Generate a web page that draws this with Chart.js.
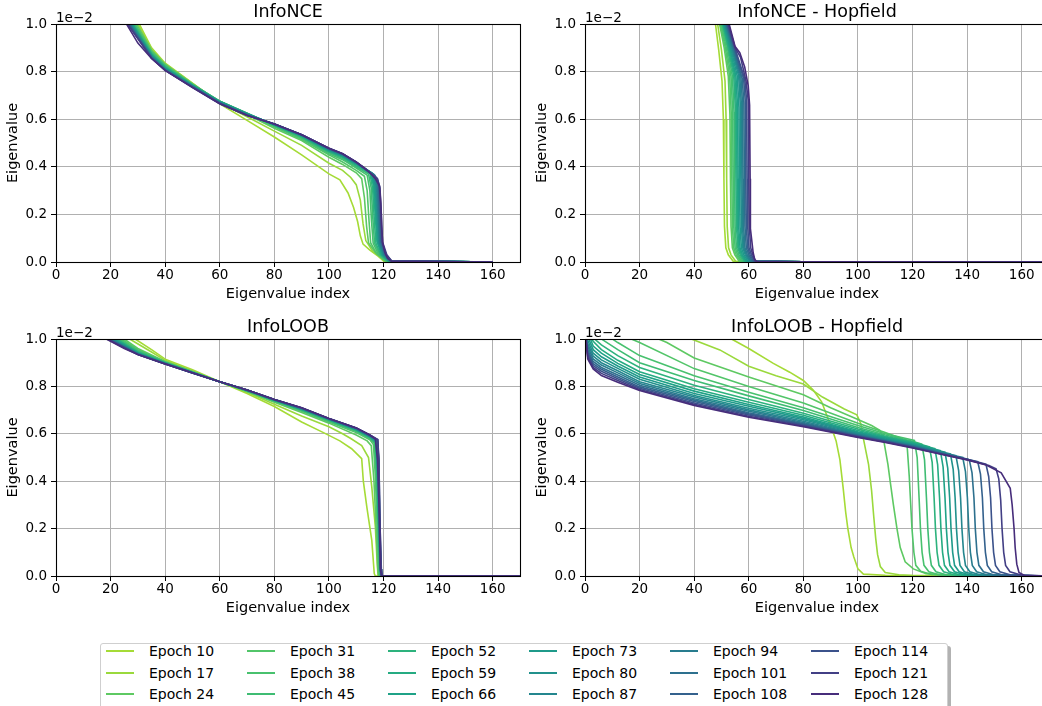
<!DOCTYPE html>
<html><head><meta charset="utf-8">
<script src="https://cdn.jsdelivr.net/npm/chart.js@4"></script>
<style>
html,body{margin:0;padding:0;background:#fff;overflow:hidden;}
#wrap{position:relative;width:1042px;height:706px;overflow:hidden;background:#fff;}
canvas.p{position:absolute;}
#legend{position:absolute;left:100px;top:643px;width:846px;height:80px;border:1px solid #cfcfcf;border-radius:3px;background:#fff;box-shadow:3px 3px 0 rgba(0,0,0,0.3);font-family:'DejaVu Sans',sans-serif;font-size:14px;color:#000;}
.li{position:absolute;height:20px;display:flex;align-items:center;white-space:nowrap;}
.sw{width:28px;height:0;border-top:2px solid;margin-right:15px;}
</style>
</head><body>
<div id="wrap">
<canvas class="p" id="c1" width="530" height="310" style="left:0;top:0;width:530px;height:310px"></canvas>
<canvas class="p" id="c2" width="530" height="310" style="left:529px;top:0;width:530px;height:310px"></canvas>
<canvas class="p" id="c3" width="530" height="310" style="left:0;top:315px;width:530px;height:310px"></canvas>
<canvas class="p" id="c4" width="530" height="310" style="left:529px;top:315px;width:530px;height:310px"></canvas>
<div id="legend"></div>
</div>
<script>
// ---- data (eigenvalues in units of 1e-2) ----
const epochs = [10,17,24,31,38,45,52,59,66,73,80,87,94,101,108,114,121,128];
const xTicks = [0,20,40,60,80,100,120,140,160];
const yTicks = [0.0,0.2,0.4,0.6,0.8,1.0];
const panelTitles = ['InfoNCE','InfoNCE - Hopfield','InfoLOOB','InfoLOOB - Hopfield'];

const infoNCE = [
 [[28.5,1.05],[30.5,1],[35,0.9],[40,0.835],[50,0.752],[60,0.665],[70,0.595],[80,0.525],[90,0.45],[100,0.37],[104,0.345],[107,0.29],[109,0.23],[110.5,0.17],[111.5,0.11],[112.5,0.075],[115,0.05],[118,0.025],[120,0.004],[125,0.001],[160,0]],
 [[28,1.05],[30,1],[35,0.895],[40,0.832],[50,0.75],[60,0.67],[70,0.61],[80,0.55],[90,0.49],[100,0.415],[105,0.385],[108,0.355],[110,0.325],[111.5,0.26],[112.5,0.16],[113.5,0.09],[116,0.045],[119,0.02],[120.5,0.003],[160,0]],
 [[27.5,1.05],[29.5,1],[35,0.89],[40,0.83],[50,0.748],[60,0.672],[70,0.62],[80,0.562],[90,0.51],[100,0.44],[105,0.41],[110,0.375],[112,0.35],[113,0.27],[113.8,0.15],[114.5,0.08],[117,0.04],[120,0.01],[121,0.002],[160,0]],
 [[27,1.05],[29,1],[35,0.885],[40,0.828],[50,0.747],[60,0.675],[70,0.622],[80,0.568],[90,0.515],[100,0.45],[105,0.42],[110,0.385],[113,0.36],[114,0.3],[114.7,0.17],[115.3,0.08],[117.5,0.035],[120.5,0.006],[160,0]],
 [[26.8,1.05],[28.8,1],[35,0.882],[40,0.825],[50,0.746],[60,0.676],[70,0.624],[80,0.571],[90,0.52],[100,0.455],[105,0.43],[110,0.395],[114,0.365],[115,0.3],[115.6,0.17],[116.2,0.08],[118,0.035],[121,0.005],[160,0]],
 [[26.5,1.05],[28.5,1],[35,0.879],[40,0.822],[50,0.745],[60,0.676],[70,0.625],[80,0.573],[90,0.523],[100,0.46],[105,0.435],[110,0.4],[114.5,0.37],[115.5,0.31],[116.1,0.18],[116.7,0.08],[118.5,0.035],[121,0.005],[160,0]],
 [[26.2,1.05],[28.2,1],[35,0.876],[40,0.82],[50,0.744],[60,0.675],[70,0.625],[80,0.575],[90,0.526],[100,0.463],[105,0.44],[110,0.405],[115,0.372],[116,0.31],[116.6,0.18],[117.2,0.08],[119,0.03],[121.5,0.005],[160,0]],
 [[26,1.05],[28,1],[35,0.873],[40,0.818],[50,0.743],[60,0.674],[70,0.624],[80,0.576],[90,0.528],[100,0.466],[105,0.443],[110,0.41],[115.3,0.375],[116.3,0.32],[117,0.19],[117.6,0.085],[119.3,0.03],[121.7,0.005],[160,0]],
 [[25.8,1.05],[27.8,1],[35,0.87],[40,0.815],[50,0.742],[60,0.673],[70,0.623],[80,0.577],[90,0.53],[100,0.468],[105,0.445],[110,0.412],[115.6,0.375],[116.6,0.32],[117.3,0.19],[117.9,0.085],[119.5,0.03],[122,0.005],[160,0]],
 [[25.6,1.05],[27.6,1],[35,0.868],[40,0.813],[50,0.741],[60,0.672],[70,0.622],[80,0.578],[90,0.531],[100,0.47],[105,0.447],[110,0.414],[115.9,0.372],[116.9,0.32],[117.6,0.19],[118.2,0.08],[119.8,0.03],[122,0.005],[160,0]],
 [[25.4,1.05],[27.4,1],[35,0.866],[40,0.811],[50,0.74],[60,0.671],[70,0.621],[80,0.578],[90,0.532],[100,0.472],[105,0.449],[110,0.415],[116.2,0.37],[117.2,0.32],[117.9,0.19],[118.4,0.08],[120,0.03],[122.2,0.005],[160,0]],
 [[25.2,1.05],[27.2,1],[35,0.864],[40,0.81],[50,0.739],[60,0.67],[70,0.62],[80,0.579],[90,0.533],[100,0.474],[105,0.45],[110,0.417],[116.5,0.368],[117.5,0.32],[118.1,0.19],[118.6,0.08],[120.2,0.03],[122.3,0.005],[160,0]],
 [[25,1.05],[27,1],[35,0.862],[40,0.808],[50,0.738],[60,0.669],[70,0.619],[80,0.58],[90,0.534],[100,0.475],[105,0.452],[110,0.418],[116.8,0.365],[117.8,0.32],[118.3,0.19],[118.8,0.08],[120.4,0.03],[122.5,0.005],[160,0]],
 [[24.8,1.05],[26.8,1],[35,0.86],[40,0.807],[50,0.737],[60,0.668],[70,0.618],[80,0.58],[90,0.535],[100,0.476],[105,0.453],[110,0.419],[117,0.36],[118,0.32],[118.5,0.2],[119,0.085],[120.6,0.03],[122.6,0.005],[160,0]],
 [[24.6,1.05],[26.6,1],[35,0.858],[40,0.806],[50,0.736],[60,0.667],[70,0.617],[80,0.58],[90,0.535],[100,0.477],[105,0.454],[110,0.42],[117.3,0.355],[118.3,0.32],[118.8,0.2],[119.2,0.085],[120.8,0.03],[122.8,0.004],[160,0]],
 [[24.4,1.05],[26.4,1],[35,0.857],[40,0.805],[50,0.735],[60,0.666],[70,0.616],[80,0.58],[90,0.535],[100,0.478],[105,0.455],[110,0.42],[117.6,0.352],[118.5,0.32],[119,0.2],[119.4,0.085],[121,0.03],[123,0.004],[160,0]],
 [[24.2,1.05],[26.2,1],[35,0.856],[40,0.805],[50,0.734],[60,0.665],[70,0.616],[80,0.58],[90,0.535],[100,0.478],[105,0.455],[110,0.42],[117.8,0.35],[118.7,0.31],[119.2,0.2],[119.6,0.085],[121.2,0.03],[123,0.004],[160,0]],
 [[23.8,1.05],[25.8,1],[30,0.92],[35,0.855],[40,0.805],[50,0.733],[60,0.665],[70,0.617],[80,0.58],[90,0.535],[100,0.478],[105,0.455],[110,0.42],[113,0.395],[115,0.375],[117,0.35],[118.5,0.32],[119,0.25],[119.3,0.15],[119.7,0.08],[120.5,0.04],[121.5,0.015],[123,0.003],[160,0]]
];

const infoNCEHopfield = [
 [[47.4,1.06],[47.8,1],[49,0.89],[50.2,0.76],[50.7,0.6],[50.9,0.35],[51.1,0.15],[51.6,0.06],[52.5,0.03],[54.3,0.003],[80,0.001],[170,0]],
 [[48.2,1.06],[48.6,1],[50,0.89],[51.3,0.76],[51.7,0.6],[51.9,0.35],[52.1,0.15],[52.6,0.06],[53.5,0.03],[55.2,0.003],[80,0.001],[170,0]],
 [[48.9,1.06],[49.3,1],[51,0.9],[52.5,0.78],[53.1,0.62],[53.3,0.35],[53.5,0.15],[54,0.06],[54.9,0.03],[56.5,0.003],[80,0.001],[170,0]],
 [[49.2,1.06],[49.6,1],[51.4,0.9],[53,0.78],[53.6,0.62],[53.8,0.35],[54,0.15],[54.5,0.06],[55.4,0.03],[57,0.003],[80,0.001],[170,0]],
 [[49.5,1.06],[49.9,1],[51.8,0.9],[53.5,0.78],[54.1,0.63],[54.3,0.35],[54.5,0.15],[55,0.06],[55.9,0.03],[57.4,0.003],[80,0.001],[170,0]],
 [[49.8,1.06],[50.2,1],[52.2,0.9],[54,0.78],[54.6,0.63],[54.8,0.35],[55,0.15],[55.5,0.06],[56.4,0.03],[57.9,0.003],[80,0.001],[170,0]],
 [[50,1.06],[50.4,1],[52.5,0.9],[54.5,0.78],[55.1,0.64],[55.3,0.35],[55.5,0.15],[56,0.06],[56.9,0.03],[58.4,0.003],[80,0.001],[170,0]],
 [[50.2,1.06],[50.6,1],[52.8,0.9],[54.9,0.78],[55.5,0.64],[55.7,0.35],[55.9,0.15],[56.4,0.06],[57.3,0.03],[58.8,0.003],[80,0.001],[170,0]],
 [[50.4,1.06],[50.8,1],[53.1,0.9],[55.3,0.78],[55.9,0.65],[56.1,0.35],[56.3,0.15],[56.8,0.06],[57.7,0.03],[59.2,0.003],[80,0.001],[170,0]],
 [[50.6,1.06],[51,1],[53.4,0.9],[55.8,0.78],[56.4,0.65],[56.6,0.35],[56.8,0.15],[57.3,0.06],[58.2,0.03],[59.7,0.003],[80,0.001],[170,0]],
 [[50.8,1.06],[51.2,1],[53.7,0.9],[56.3,0.78],[56.9,0.66],[57.1,0.35],[57.3,0.15],[57.8,0.06],[58.7,0.03],[60.2,0.003],[80,0.001],[170,0]],
 [[51,1.06],[51.4,1],[54,0.9],[56.7,0.78],[57.3,0.66],[57.5,0.35],[57.7,0.15],[58.2,0.06],[59.1,0.03],[60.6,0.003],[80,0.001],[170,0]],
 [[51.2,1.06],[51.6,1],[54.2,0.9],[57.1,0.78],[57.7,0.67],[57.9,0.35],[58.1,0.15],[58.6,0.06],[59.5,0.03],[61,0.003],[80,0.001],[170,0]],
 [[51.4,1.06],[51.8,1],[54.5,0.9],[57.6,0.77],[58.2,0.67],[58.4,0.35],[58.6,0.15],[59.1,0.06],[60,0.03],[61.4,0.003],[80,0.001],[170,0]],
 [[51.6,1.06],[52,1],[54.7,0.9],[58.1,0.77],[58.7,0.68],[58.9,0.35],[59.1,0.15],[59.6,0.06],[60.5,0.03],[61.8,0.003],[80,0.001],[170,0]],
 [[51.8,1.06],[52.2,1],[54.9,0.9],[58.5,0.77],[59.2,0.68],[59.4,0.35],[59.6,0.15],[60.1,0.06],[61,0.03],[62.2,0.003],[80,0.001],[170,0]],
 [[52.1,1.06],[52.5,1],[55,0.9],[57,0.86],[59,0.76],[59.8,0.68],[60,0.35],[60.2,0.15],[60.7,0.06],[61.5,0.03],[62.5,0.003],[80,0.001],[170,0]],
 [[52.4,1.06],[52.8,1],[55,0.905],[56.7,0.88],[58.5,0.82],[59.8,0.74],[60.3,0.66],[60.5,0.35],[60.6,0.14],[61,0.1],[61.6,0.04],[62.2,0.01],[63,0.002],[80,0.001],[170,0]]
];

const infoLOOB = [
 [[26,1.03],[29,1],[35,0.955],[40,0.915],[50,0.87],[60,0.82],[70,0.77],[80,0.715],[90,0.65],[98,0.605],[104,0.57],[108.3,0.537],[112,0.495],[112.6,0.4],[113.9,0.29],[115.7,0.15],[116.6,0.01],[117,0],[170,0]],
 [[24,1.03],[27,1],[35,0.945],[40,0.91],[50,0.865],[60,0.82],[70,0.775],[80,0.725],[90,0.675],[100,0.63],[105,0.6],[108,0.58],[112,0.55],[114.5,0.5],[115.7,0.376],[117,0.207],[117.7,0.05],[118,0],[170,0]],
 [[22,1.03],[25,1],[30,0.96],[40,0.905],[50,0.863],[60,0.82],[70,0.778],[80,0.733],[90,0.69],[100,0.645],[110,0.595],[114,0.57],[115.5,0.55],[116.5,0.4],[117.3,0.2],[117.9,0.03],[118.2,0],[170,0]],
 [[21,1.03],[24,1],[30,0.955],[40,0.903],[50,0.862],[60,0.82],[70,0.78],[80,0.737],[90,0.695],[100,0.65],[110,0.605],[115,0.575],[116.3,0.555],[117,0.42],[117.7,0.2],[118.2,0.03],[118.5,0],[170,0]],
 [[20.5,1.03],[23.3,1],[30,0.952],[40,0.902],[50,0.861],[60,0.82],[70,0.781],[80,0.739],[90,0.698],[100,0.654],[110,0.61],[115,0.58],[116.6,0.56],[117.3,0.43],[117.9,0.2],[118.4,0.03],[118.7,0],[170,0]],
 [[20,1.03],[22.7,1],[30,0.948],[40,0.901],[50,0.86],[60,0.82],[70,0.782],[80,0.74],[90,0.7],[100,0.656],[110,0.613],[115,0.583],[116.8,0.562],[117.5,0.44],[118.1,0.2],[118.6,0.03],[118.9,0],[170,0]],
 [[19.5,1.03],[22.2,1],[30,0.945],[40,0.9],[50,0.86],[60,0.82],[70,0.783],[80,0.741],[90,0.702],[100,0.658],[110,0.615],[115,0.585],[117,0.565],[117.6,0.45],[118.2,0.2],[118.7,0.03],[119,0],[170,0]],
 [[19,1.03],[21.7,1],[30,0.943],[40,0.899],[50,0.859],[60,0.82],[70,0.783],[80,0.742],[90,0.703],[100,0.659],[110,0.617],[115,0.587],[117.1,0.567],[117.7,0.46],[118.3,0.2],[118.8,0.03],[119.1,0],[170,0]],
 [[18.5,1.03],[21.2,1],[30,0.941],[40,0.898],[50,0.859],[60,0.82],[70,0.784],[80,0.742],[90,0.704],[100,0.66],[110,0.618],[115,0.588],[117.2,0.569],[117.8,0.46],[118.3,0.2],[118.8,0.03],[119.1,0],[170,0]],
 [[18,1.03],[20.8,1],[30,0.94],[40,0.898],[50,0.858],[60,0.82],[70,0.784],[80,0.743],[90,0.705],[100,0.661],[110,0.619],[115,0.589],[117.3,0.57],[117.8,0.47],[118.4,0.2],[118.9,0.03],[119.2,0],[170,0]],
 [[17.6,1.03],[20.4,1],[30,0.939],[40,0.897],[50,0.858],[60,0.82],[70,0.784],[80,0.743],[90,0.706],[100,0.662],[110,0.62],[115,0.59],[117.4,0.571],[117.9,0.47],[118.4,0.2],[118.9,0.03],[119.2,0],[170,0]],
 [[17.2,1.03],[20,1],[30,0.938],[40,0.897],[50,0.858],[60,0.82],[70,0.785],[80,0.744],[90,0.707],[100,0.663],[110,0.621],[115,0.591],[117.5,0.572],[118,0.48],[118.5,0.2],[119,0.03],[119.3,0],[170,0]],
 [[16.9,1.03],[19.7,1],[30,0.937],[40,0.896],[50,0.858],[60,0.82],[70,0.785],[80,0.744],[90,0.708],[100,0.663],[110,0.622],[115,0.592],[117.6,0.573],[118.1,0.48],[118.5,0.22],[119,0.03],[119.3,0],[170,0]],
 [[16.6,1.03],[19.4,1],[30,0.936],[40,0.896],[50,0.857],[60,0.82],[70,0.785],[80,0.745],[90,0.708],[100,0.664],[110,0.623],[115,0.593],[117.7,0.574],[118.2,0.49],[118.6,0.22],[119,0.03],[119.4,0],[170,0]],
 [[16.3,1.03],[19.1,1],[30,0.936],[40,0.896],[50,0.857],[60,0.82],[70,0.785],[80,0.745],[90,0.709],[100,0.664],[110,0.624],[115,0.594],[117.8,0.575],[118.2,0.49],[118.6,0.22],[119.1,0.03],[119.4,0],[170,0]],
 [[16.1,1.03],[18.9,1],[30,0.935],[40,0.895],[50,0.857],[60,0.82],[70,0.785],[80,0.745],[90,0.709],[100,0.665],[110,0.625],[115,0.594],[117.8,0.575],[118.3,0.49],[118.7,0.22],[119.1,0.03],[119.5,0],[170,0]],
 [[15.9,1.03],[18.7,1],[30,0.935],[40,0.895],[50,0.857],[60,0.82],[70,0.785],[80,0.745],[90,0.71],[100,0.665],[110,0.625],[115,0.595],[117.9,0.576],[118.3,0.49],[118.7,0.22],[119.2,0.03],[119.5,0],[170,0]],
 [[15.7,1.03],[18.5,1],[25,0.96],[30,0.935],[40,0.895],[50,0.858],[60,0.82],[70,0.785],[80,0.745],[90,0.71],[100,0.665],[110,0.625],[115,0.595],[117,0.578],[117.8,0.49],[118.5,0.24],[118.8,0.03],[119.2,0],[170,0]]
];

const infoLOOBHopfield = [
 [[50,1.04],[53.7,1],[60,0.96],[69,0.897],[75,0.86],[80,0.825],[83.6,0.785],[86.7,0.735],[88.5,0.68],[90.5,0.62],[92,0.57],[93.4,0.49],[94.6,0.37],[95.5,0.27],[96.3,0.2],[97.5,0.12],[98.5,0.08],[100,0.03],[102,0.008],[110,0.003],[170,0]],
 [[35,1.03],[39,1],[49.4,0.954],[60,0.885],[70,0.845],[80,0.81],[87,0.755],[95,0.705],[99.6,0.68],[101,0.645],[102,0.58],[103.9,0.47],[105,0.36],[105.8,0.25],[106.5,0.16],[107.2,0.09],[108.2,0.04],[110,0.015],[115,0.005],[120,0.002],[170,0]],
 [[22,1.03],[27,1],[30,0.985],[40,0.92],[60,0.84],[80,0.765],[90,0.71],[100,0.66],[105,0.635],[108,0.615],[109.4,0.575],[111,0.47],[111.8,0.4],[113,0.3],[114.3,0.2],[115.5,0.12],[117.3,0.06],[120.3,0.03],[125,0.01],[135,0.003],[170,0]],
 [[12,1.04],[17,1],[20,0.985],[40,0.875],[60,0.8],[80,0.73],[100,0.645],[110,0.605],[116,0.58],[117.9,0.57],[118.8,0.42],[119.8,0.2],[120.5,0.1],[121.2,0.045],[123,0.02],[127,0.006],[135,0.002],[170,0]],
 [[7,1.04],[10,1],[12,0.985],[20,0.93],[40,0.845],[60,0.775],[80,0.71],[100,0.635],[110,0.6],[120.7,0.572],[121.7,0.5],[122.4,0.33],[122.9,0.2],[123.5,0.1],[124.2,0.045],[126,0.018],[130,0.004],[170,0]],
 [[3,1.05],[6,1],[12,0.955],[20,0.9],[40,0.825],[60,0.76],[80,0.698],[100,0.627],[110,0.595],[120,0.568],[123.4,0.556],[124.4,0.49],[125.1,0.33],[125.6,0.2],[126.2,0.1],[126.9,0.045],[128.6,0.018],[132.6,0.004],[170,0]],
 [[1,1.05],[3.5,1],[6,0.975],[12,0.93],[20,0.88],[40,0.805],[60,0.745],[80,0.687],[100,0.62],[110,0.59],[120,0.565],[126.2,0.545],[127.2,0.48],[127.9,0.33],[128.4,0.2],[129,0.1],[129.7,0.045],[131.4,0.018],[135.4,0.004],[170,0]],
 [[0,1.06],[2.5,1],[3,0.99],[6,0.955],[12,0.91],[20,0.862],[40,0.79],[60,0.733],[80,0.678],[100,0.614],[110,0.586],[120,0.562],[128.2,0.537],[129.2,0.47],[129.9,0.33],[130.4,0.2],[131,0.1],[131.7,0.045],[133.4,0.018],[137.4,0.004],[170,0]],
 [[0,1.06],[1,1.02],[2,1],[3,0.97],[6,0.94],[12,0.897],[20,0.85],[40,0.78],[60,0.724],[80,0.671],[100,0.609],[110,0.582],[120,0.559],[130.2,0.529],[131.2,0.46],[131.9,0.33],[132.4,0.2],[133,0.1],[133.7,0.045],[135.4,0.018],[139.4,0.004],[170,0]],
 [[0,1.06],[1,1.01],[3,0.955],[6,0.925],[12,0.886],[20,0.84],[40,0.77],[60,0.716],[80,0.665],[100,0.605],[110,0.579],[120,0.556],[130,0.527],[131.9,0.522],[132.9,0.455],[133.6,0.33],[134.1,0.2],[134.7,0.1],[135.4,0.045],[137.1,0.018],[141,0.004],[170,0]],
 [[0,1.05],[1,0.995],[3,0.94],[6,0.912],[12,0.876],[20,0.83],[40,0.762],[60,0.708],[80,0.659],[100,0.601],[110,0.576],[120,0.553],[130,0.525],[133.9,0.515],[134.9,0.45],[135.6,0.33],[136.1,0.2],[136.7,0.1],[137.4,0.045],[139,0.018],[143,0.004],[170,0]],
 [[0,1.05],[1,0.98],[3,0.928],[6,0.9],[12,0.866],[20,0.82],[40,0.755],[60,0.701],[80,0.653],[100,0.598],[110,0.574],[120,0.551],[130,0.523],[135.9,0.508],[136.9,0.445],[137.6,0.33],[138.1,0.2],[138.7,0.1],[139.4,0.045],[141,0.018],[145,0.004],[170,0]],
 [[0,1.04],[1,0.968],[3,0.916],[6,0.89],[12,0.857],[20,0.812],[40,0.748],[60,0.695],[80,0.648],[100,0.595],[110,0.572],[120,0.549],[130,0.521],[138.4,0.5],[139.4,0.44],[140.1,0.33],[140.6,0.2],[141.2,0.1],[141.9,0.045],[143.5,0.018],[147.5,0.004],[170,0]],
 [[0,1.04],[1,0.955],[3,0.905],[6,0.88],[12,0.848],[20,0.805],[40,0.742],[60,0.689],[80,0.643],[100,0.593],[110,0.57],[120,0.547],[130,0.519],[140,0.494],[140.8,0.49],[141.8,0.435],[142.5,0.33],[143,0.2],[143.6,0.1],[144.3,0.045],[146,0.018],[150,0.004],[170,0]],
 [[0,1.03],[1,0.945],[3,0.896],[6,0.872],[12,0.84],[20,0.798],[40,0.736],[60,0.684],[80,0.639],[100,0.591],[110,0.568],[120,0.545],[130,0.518],[140,0.493],[143.9,0.482],[144.9,0.43],[145.6,0.33],[146.1,0.2],[146.7,0.1],[147.4,0.045],[149,0.018],[153,0.004],[170,0]],
 [[0,1.03],[1,0.935],[3,0.888],[6,0.864],[12,0.832],[20,0.792],[40,0.73],[60,0.679],[80,0.636],[100,0.589],[110,0.567],[120,0.544],[130,0.517],[140,0.492],[146.9,0.472],[147.9,0.42],[148.6,0.33],[149.1,0.2],[149.7,0.1],[150.4,0.045],[152,0.018],[156,0.004],[170,0]],
 [[0,1.02],[1,0.925],[3,0.88],[6,0.855],[12,0.825],[20,0.787],[40,0.725],[60,0.674],[80,0.633],[100,0.587],[110,0.566],[120,0.542],[130,0.516],[140,0.491],[148,0.466],[150.6,0.452],[151.6,0.41],[152.3,0.32],[152.8,0.2],[153.4,0.1],[154.1,0.045],[155.7,0.018],[159.7,0.004],[170,0]],
 [[0,1.02],[0.4,1],[1,0.916],[3,0.874],[6,0.846],[12,0.818],[20,0.783],[40,0.72],[60,0.67],[80,0.63],[100,0.585],[110,0.563],[120,0.54],[130,0.515],[140,0.49],[147,0.468],[152.5,0.435],[155.8,0.37],[156.5,0.3],[157.2,0.2],[157.6,0.12],[158.2,0.05],[159,0.015],[161,0.002],[170,0]]
];

// ---- styles ----
const colors = ['#a5db36','#9ad93c','#5ec962','#52c569','#48c16e','#3fbc73','#2db27d','#25ab82','#1fa287','#1f9a8a','#21918c','#24868e','#287c8e','#2d708e','#34618d','#3b528b','#423f85','#472d7b'];
const FONT = "'DejaVu Sans', sans-serif";
Chart.defaults.font.family = FONT;
Chart.defaults.color = '#000';

const framePlugin = {
  id: 'frame',
  afterDatasetsDraw(chart) {
    const {ctx, chartArea: a} = chart;
    ctx.save();
    ctx.strokeStyle = '#000';
    ctx.lineWidth = 1.1;
    ctx.strokeRect(Math.round(a.left) + 0.5, Math.round(a.top) + 0.5, Math.round(a.right - a.left), Math.round(a.bottom - a.top));
    ctx.fillStyle = '#000';
    ctx.font = '13.5px ' + FONT;
    ctx.textAlign = 'left';
    ctx.textBaseline = 'alphabetic';
    ctx.fillText('1e\u22122', a.left, a.top - 2);
    ctx.restore();
  }
};

function makeChart(id, title, series, xAxisH, titleBottomPad) {
  const datasets = series.map((pts, i) => ({
    label: 'Epoch ' + epochs[i],
    data: pts,
    borderColor: colors[i],
    backgroundColor: colors[i],
    borderWidth: 1.6,
    pointRadius: 0,
    pointHoverRadius: 0,
    tension: 0,
    fill: false,
    clip: 0,
    order: series.length - 1 - i
  }));
  return new Chart(document.getElementById(id), {
    type: 'line',
    data: { datasets },
    plugins: [framePlugin],
    options: {
      responsive: false,
      animation: false,
      events: [],
      layout: { padding: { left: 0, right: 10, top: 0, bottom: 0 } },
      plugins: {
        legend: { display: false },
        tooltip: { enabled: false },
        title: { display: true, text: title, fullSize: false, color: '#000',
                 font: { size: 17.5, weight: 'normal', family: FONT, lineHeight: 1.2 },
                 padding: { top: 2, bottom: 1 } }
      },
      scales: {
        x: {
          type: 'linear', min: 0, max: 170,
          afterBuildTicks(s) { s.ticks = xTicks.map(v => ({ value: v })); },
          afterFit(s) { s.height = xAxisH; },
          grid: { color: '#b0b0b0', lineWidth: 1, tickColor: '#000', tickLength: 5, drawTicks: true },
          border: { display: false },
          ticks: { padding: 0, font: { size: 13.5 }, color: '#000', maxRotation: 0, callback: v => String(v) },
          title: { display: true, text: 'Eigenvalue index', font: { size: 14.5 }, color: '#000', padding: { top: 0, bottom: titleBottomPad } }
        },
        y: {
          type: 'linear', min: 0, max: 1,
          afterBuildTicks(s) { s.ticks = yTicks.map(v => ({ value: v })); },
          afterFit(s) { s.width = 56; },
          grid: { color: '#b0b0b0', lineWidth: 1, tickColor: '#000', tickLength: 5, drawTicks: true },
          border: { display: false },
          ticks: { padding: 4, font: { size: 13.5 }, color: '#000', callback: v => Number(v).toFixed(1) },
          title: { display: true, text: 'Eigenvalue', font: { size: 14.5 }, color: '#000', padding: { top: 5, bottom: 0 } }
        }
      }
    }
  });
}

makeChart('c1', panelTitles[0], infoNCE, 48, 7);
makeChart('c2', panelTitles[1], infoNCEHopfield, 48, 7);
makeChart('c3', panelTitles[2], infoLOOB, 49, 8);
makeChart('c4', panelTitles[3], infoLOOBHopfield, 49, 8);

// ---- legend (3 rows x 6 columns, column-major) ----
const leg = document.getElementById('legend');
const colX = [5, 146, 287, 428, 569, 710];
const rowY = [-3, 18.5, 40];
epochs.forEach((e, i) => {
  const c = Math.floor(i / 3), r = i % 3;
  const d = document.createElement('div');
  d.className = 'li';
  d.style.left = colX[c] + 'px';
  d.style.top = rowY[r] + 'px';
  const sw = document.createElement('span');
  sw.className = 'sw';
  sw.style.borderTopColor = colors[i];
  const t = document.createElement('span');
  t.textContent = 'Epoch ' + e;
  d.appendChild(sw); d.appendChild(t);
  leg.appendChild(d);
});
</script>
</body></html>
